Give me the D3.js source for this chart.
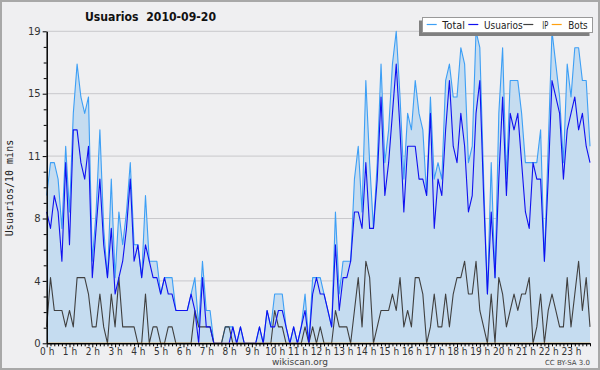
<!DOCTYPE html>
<html>
<head>
<meta charset="utf-8">
<script src="https://cdn.jsdelivr.net/npm/d3@7"></script>
<style>
  body { margin: 0; background: #efefef; }
  svg { display: block; font-family: "DejaVu Sans", sans-serif; }
</style>
</head>
<body>
<div id="vis"></div>
<script>
// one value every 10 minutes, 0h -> 23h50
const total = [
  9,11,11,10,7,12,8,14,17,15,14,15,5,8,13,7,4,10,4,8,6,8,11,6,
  6,4,9,5,5,5,3,4,4,4,2,2,2,2,3,4,1,5,2,2,0,0,0,1,
  1,1,0,1,0,0,0,0,1,0,2,1,3,3,3,1,0,1,0,1,3,0,4,4,
  4,3,2,1,8,3,5,5,5,10,12,8,16,11,7,11,17,11,13,17,19,15,10,14,
  13,16,14,13,9,15,10,11,10,16,17,15,15,18,17,11,12,19,18,10,3,11,4,14,
  18,10,16,16,16,14,11,11,11,11,13,5,12,19,17,15,11,17,15,18,18,16,16,12];
const users = [
  8,7,9,8,5,11,6,13,13,11,10,12,4,7,10,6,4,7,3,4,5,7,10,5,
  6,4,6,5,4,4,3,4,3,3,2,2,2,2,3,2,0,4,1,1,0,0,0,0,
  0,1,0,1,0,0,0,0,1,0,2,1,1,2,2,1,0,1,0,1,2,0,3,4,
  3,3,2,1,6,2,4,4,5,8,8,7,11,7,7,10,15,9,11,14,17,13,8,12,
  12,12,10,10,9,14,7,10,9,13,16,12,11,14,12,8,9,14,16,9,3,8,4,10,
  15,9,14,13,14,11,8,7,11,10,10,5,10,16,15,14,10,13,14,15,13,14,12,11];
const ip = [
  1,4,2,2,2,1,2,1,4,4,4,3,1,1,3,1,0,3,1,4,1,1,1,1,
  0,0,3,0,1,1,0,0,1,1,0,0,0,0,0,2,1,1,1,1,0,0,0,1,
  1,0,0,0,0,0,0,0,0,0,0,0,2,1,1,0,0,0,0,0,1,0,1,0,
  1,0,0,0,2,1,1,1,0,2,4,1,5,4,0,1,2,2,2,3,2,4,1,2,
  1,4,4,3,0,1,3,1,1,3,1,3,4,4,5,3,3,5,2,1,0,3,0,4,
  3,1,2,3,2,3,3,4,0,1,3,0,2,3,2,1,1,4,1,3,5,2,4,1];
const bots = [
  0,0,0,0,0,0,0,0,0,0,0,0,0,0,0,0,0,0,0,0,0,0,0,0,
  0,0,0,0,0,0,0,0,0,0,0,0,0,0,0,0,0,0,0,0,0,0,0,0,
  0,0,0,0,0,0,0,0,0,0,0,0,0,0,0,0,0,0,0,0,0,0,0,0,
  0,0,0,0,0,0,0,0,0,0,0,0,0,0,0,0,0,0,0,0,0,0,0,0,
  0,0,0,0,0,0,0,0,0,0,0,0,0,0,0,0,0,0,0,0,0,0,0,0,
  0,0,0,0,0,0,0,0,0,0,0,0,0,0,0,0,0,0,0,0,0,0,0,0];
const hourLabels = ["0 h","1 h","2 h","3 h","4 h","5 h","6 h","7 h","8 h","9 h","10 h","11 h",
  "12 h","13 h","14 h","15 h","16 h","17 h","18 h","19 h","20 h","21 h","22 h","23 h"];
const yMax = 19;
const legendNames = ["Total", "Usuarios", "IP", "Bots"];
const legendColors = ["#3d9ff5", "#1010f0", "#404040", "#ffa010"];

var width = 600, height = 370;
var svg = d3.select("#vis").append("svg")
  .attr("width", width)
  .attr("height", height);

svg.append("rect")
  .attr("x", 1).attr("y", 1)
  .attr("width", width - 2).attr("height", height - 2)
  .attr("fill", "#efeff1")
  .attr("stroke", "#a8a8a8")
  .attr("stroke-width", 2);

var x = d3.scaleLinear().domain([0, total.length - 1]).range([46.7, 590]);
var y = d3.scaleLinear().domain([0, yMax]).range([343.3, 31.3]);

// 20 steps on the y axis, label every 4th
var yTicks = d3.range(0, 21).map(k => k * yMax / 20);
var yMajor = yTicks.filter((d, k) => k % 4 === 0);

svg.append("g").selectAll("line")
  .data(yMajor)
  .join("line")
    .attr("x1", x(0)).attr("x2", 590)
    .attr("y1", d => y(d)).attr("y2", d => y(d))
    .attr("stroke", "#c8c8cc")
    .attr("stroke-width", 1);

var area = d3.area()
  .x((d, i) => x(i))
  .y0(y(0))
  .y1(d => y(d));
var line = d3.line()
  .x((d, i) => x(i))
  .y(d => y(d));

svg.append("path")
  .datum(total)
  .attr("fill", "#c5dcf0")
  .attr("d", area);

var series = [total, users, ip, bots];
[0, 2, 1, 3].forEach(k => {
  svg.append("path")
    .datum(series[k])
    .attr("fill", "none")
    .attr("stroke", legendColors[k])
    .attr("stroke-width", 1.1)
    .attr("stroke-linejoin", "round")
    .attr("d", line);
});

// y axis
var yAxis = svg.append("g")
  .attr("transform", `translate(${x(0)},0)`)
  .call(d3.axisLeft(y).tickValues(yTicks).tickSize(3).tickSizeOuter(0)
    .tickFormat((d, k) => k % 4 === 0 ? Math.round(d) : ""));
yAxis.select(".domain").attr("stroke", "#000").attr("stroke-width", 1.5);
yAxis.selectAll(".tick line").attr("x2", (d, k) => k % 4 === 0 ? -4 : -3);
yAxis.selectAll("text")
  .attr("x", -6)
  .attr("font-size", 10)
  .attr("font-family", "DejaVu Sans")
  .attr("fill", "#333");

// x axis, tick every 10 min, label every hour
var xAxis = svg.append("g")
  .attr("transform", `translate(0,${y(0)})`)
  .call(d3.axisBottom(x).tickValues(d3.range(0, total.length)).tickSize(3).tickSizeOuter(0)
    .tickFormat(i => i % 6 === 0 ? hourLabels[i / 6] : ""));
xAxis.select(".domain").attr("stroke", "#000").attr("stroke-width", 1.5);
xAxis.selectAll(".tick line").attr("y2", i => i % 6 === 0 ? 4 : 3).attr("stroke", "#000");
xAxis.selectAll("text")
  .attr("y", 5)
  .attr("font-size", 10)
  .attr("font-family", "DejaVu Sans Condensed, DejaVu Sans")
  .attr("fill", "#333");

// title
svg.append("text")
  .attr("x", 85).attr("y", 21)
  .attr("font-weight", "bold")
  .attr("font-size", 12.5)
  .attr("fill", "#111")
  .attr("xml:space", "preserve")
  .attr("textLength", 131)
  .attr("lengthAdjust", "spacingAndGlyphs")
  .text("Usuarios  2010-09-20");

svg.append("text")
  .attr("transform", "translate(12.5,188) rotate(-90)")
  .attr("text-anchor", "middle")
  .attr("font-family", "DejaVu Sans Mono")
  .attr("font-size", 10)
  .attr("fill", "#222")
  .text("Usuarios/10 mins");

// legend with shadow
var lg = svg.append("g");
lg.append("rect")
  .attr("x", 419).attr("y", 20.5)
  .attr("width", 170.5).attr("height", 15.5)
  .attr("fill", "#808080");
lg.append("rect")
  .attr("x", 422.5).attr("y", 17.5)
  .attr("width", 170).attr("height", 15)
  .attr("fill", "#fff")
  .attr("stroke", "#999")
  .attr("stroke-width", 1);
var lineX = [426.7, 468.3, 523.3, 551.7];
var textX = [442.3, 484, 542.3, 568.3];
var textW = [22.7, 38.7, 6, 19.4];
legendNames.forEach((name, k) => {
  lg.append("line")
    .attr("x1", lineX[k]).attr("x2", lineX[k] + 10)
    .attr("y1", 24.5).attr("y2", 24.5)
    .attr("stroke", legendColors[k])
    .attr("stroke-width", 1.2);
  lg.append("text")
    .attr("x", textX[k]).attr("y", 28.5)
    .attr("font-size", 10.5)
    .attr("fill", "#222")
    .attr("textLength", textW[k])
    .attr("lengthAdjust", "spacingAndGlyphs")
    .text(name);
});

svg.append("text")
  .attr("x", 300).attr("y", 365)
  .attr("text-anchor", "middle")
  .attr("font-size", 9)
  .attr("fill", "#444")
  .text("wikiscan.org");
svg.append("text")
  .attr("x", 590).attr("y", 365)
  .attr("text-anchor", "end")
  .attr("font-size", 7)
  .attr("fill", "#444")
  .text("CC BY-SA 3.0");
</script>
</body>
</html>
